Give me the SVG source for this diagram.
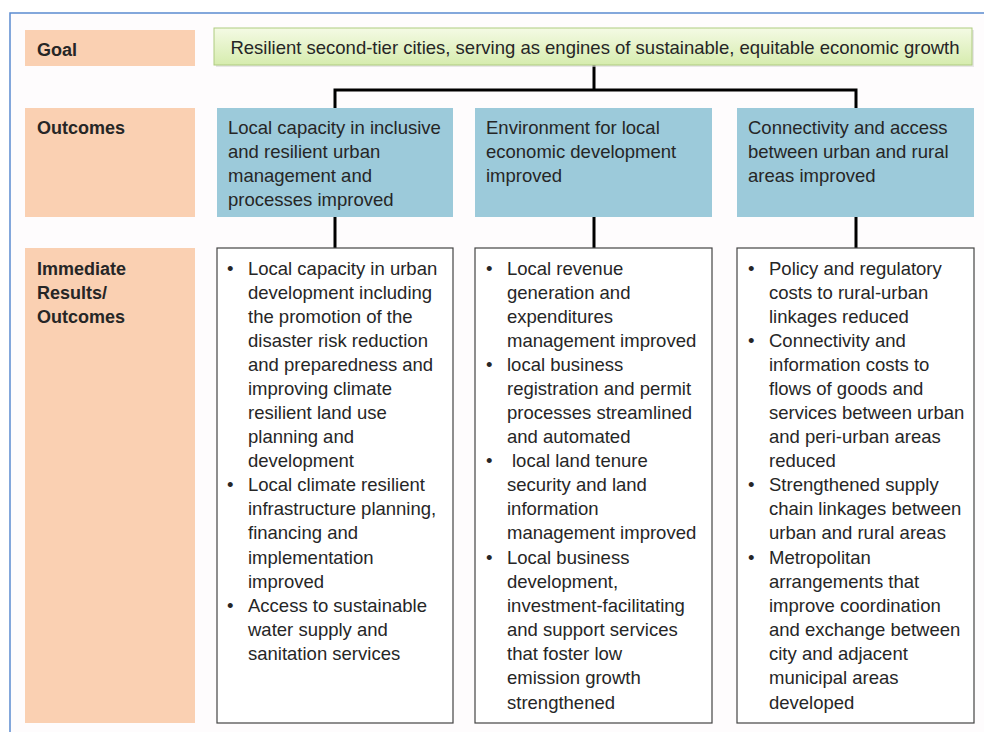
<svg xmlns="http://www.w3.org/2000/svg" width="984" height="732" viewBox="0 0 984 732">
<defs>
<linearGradient id="gg" x1="0" y1="0" x2="0" y2="1">
<stop offset="0" stop-color="#F4FAE4"/>
<stop offset="1" stop-color="#D6ECAE"/>
</linearGradient>
<style>
text{font-family:"Liberation Sans",Arial,sans-serif;font-size:18.5px;fill:#262626}
.lbl{font-weight:bold;font-size:18px}
.side{fill:#FAD0B2}
.out{fill:#9CCADA}
.res{fill:#FFFFFF;stroke:#444;stroke-width:1.2}
.con{fill:none;stroke:#000;stroke-width:3}
</style>
</defs>
<rect x="0" y="0" width="984" height="732" fill="#FFFFFF"/>
<rect x="10" y="13" width="990" height="740" fill="#FEFCFD" stroke="#5B8BD0" stroke-width="1.5"/>

<g id="connectors">
<path class="con" d="M594 65V90M335 108V90H856V108M335 217V248M594 217V248M856 217V248"/>
</g>

<g id="label-goal">
<rect class="side" x="25" y="30" width="170" height="36"/>
<text class="lbl" x="37" y="56">Goal</text>
</g>
<g id="label-outcomes">
<rect class="side" x="25" y="108" width="170" height="109"/>
<text class="lbl" x="37" y="134">Outcomes</text>
</g>
<g id="label-results">
<rect class="side" x="25" y="248" width="170" height="475"/>
<text class="lbl" x="37" y="275">Immediate</text>
<text class="lbl" x="37" y="299">Results/</text>
<text class="lbl" x="37" y="323">Outcomes</text>
</g>

<g id="goal">
<rect x="216" y="30" width="758" height="37" fill="#D8D8D8" opacity="0.6"/>
<rect x="214" y="28" width="758" height="37" fill="url(#gg)" stroke="#AECB80" stroke-width="1"/>
<text x="595" y="54" text-anchor="middle">Resilient second-tier cities, serving as engines of sustainable, equitable economic growth</text>
</g>

<g id="outcome-1">
<rect class="out" x="217" y="108" width="236" height="109"/>
<text x="228" y="134">Local capacity in inclusive</text>
<text x="228" y="158">and resilient urban</text>
<text x="228" y="182">management and</text>
<text x="228" y="206">processes improved</text>
</g>
<g id="outcome-2">
<rect class="out" x="475" y="108" width="237" height="109"/>
<text x="486" y="134">Environment for local</text>
<text x="486" y="158">economic development</text>
<text x="486" y="182">improved</text>
</g>
<g id="outcome-3">
<rect class="out" x="737" y="108" width="237" height="109"/>
<text x="748" y="134">Connectivity and access</text>
<text x="748" y="158">between urban and rural</text>
<text x="748" y="182">areas improved</text>
</g>

<g id="results-1">
<rect class="res" x="217" y="248" width="236" height="475"/>
<text x="227" y="275">•</text>
<text x="248" y="275">Local capacity in urban</text>
<text x="248" y="299">development including</text>
<text x="248" y="323">the promotion of the</text>
<text x="248" y="347">disaster risk reduction</text>
<text x="248" y="371">and preparedness and</text>
<text x="248" y="395">improving climate</text>
<text x="248" y="419">resilient land use</text>
<text x="248" y="443">planning and</text>
<text x="248" y="467">development</text>
<text x="227" y="491">•</text>
<text x="248" y="491">Local climate resilient</text>
<text x="248" y="515">infrastructure planning,</text>
<text x="248" y="539">financing and</text>
<text x="248" y="564">implementation</text>
<text x="248" y="588">improved</text>
<text x="227" y="612">•</text>
<text x="248" y="612">Access to sustainable</text>
<text x="248" y="636">water supply and</text>
<text x="248" y="660">sanitation services</text>
</g>

<g id="results-2">
<rect class="res" x="475" y="248" width="237" height="475"/>
<text x="486" y="275">•</text>
<text x="507" y="275">Local revenue</text>
<text x="507" y="299">generation and</text>
<text x="507" y="323">expenditures</text>
<text x="507" y="347">management improved</text>
<text x="486" y="371">•</text>
<text x="507" y="371">local business</text>
<text x="507" y="395">registration and permit</text>
<text x="507" y="419">processes streamlined</text>
<text x="507" y="443">and automated</text>
<text x="486" y="467">•</text>
<text x="512" y="467">local land tenure</text>
<text x="507" y="491">security and land</text>
<text x="507" y="515">information</text>
<text x="507" y="539">management improved</text>
<text x="486" y="564">•</text>
<text x="507" y="564">Local business</text>
<text x="507" y="588">development,</text>
<text x="507" y="612">investment-facilitating</text>
<text x="507" y="636">and support services</text>
<text x="507" y="660">that foster low</text>
<text x="507" y="684">emission growth</text>
<text x="507" y="709">strengthened</text>
</g>

<g id="results-3">
<rect class="res" x="737" y="248" width="237" height="475"/>
<text x="748" y="275">•</text>
<text x="769" y="275">Policy and regulatory</text>
<text x="769" y="299">costs to rural-urban</text>
<text x="769" y="323">linkages reduced</text>
<text x="748" y="347">•</text>
<text x="769" y="347">Connectivity and</text>
<text x="769" y="371">information costs to</text>
<text x="769" y="395">flows of goods and</text>
<text x="769" y="419">services between urban</text>
<text x="769" y="443">and peri-urban areas</text>
<text x="769" y="467">reduced</text>
<text x="748" y="491">•</text>
<text x="769" y="491">Strengthened supply</text>
<text x="769" y="515">chain linkages between</text>
<text x="769" y="539">urban and rural areas</text>
<text x="748" y="564">•</text>
<text x="769" y="564">Metropolitan</text>
<text x="769" y="588">arrangements that</text>
<text x="769" y="612">improve coordination</text>
<text x="769" y="636">and exchange between</text>
<text x="769" y="660">city and adjacent</text>
<text x="769" y="684">municipal areas</text>
<text x="769" y="709">developed</text>
</g>
</svg>
